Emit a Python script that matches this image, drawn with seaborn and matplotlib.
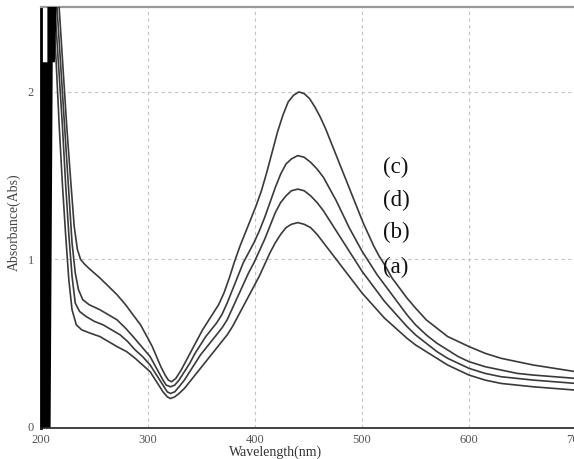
import matplotlib
matplotlib.use("Agg")
import matplotlib.pyplot as plt
import seaborn as sns
import pandas as pd

# ---- data ----
wl_c = [216, 220, 224, 228, 231, 234, 237, 241, 246, 255, 263, 271, 279, 286, 293, 299, 304, 308, 312, 316, 319, 322,
        326, 331, 336, 341, 346, 351, 356, 361, 366, 371, 376, 381, 386, 391, 396, 401, 406, 411, 416, 421, 426, 431, 436, 441,
        446, 451, 456, 461, 466, 471, 476, 481, 486, 491, 496, 501, 506, 511, 516, 521, 528, 535, 542, 550, 560, 570, 580, 590,
        600, 615, 630, 645, 660, 680, 700]
abs_c = [2.6, 2.2, 1.8, 1.45, 1.2, 1.06, 1.0, 0.97, 0.94, 0.89, 0.84, 0.79, 0.73, 0.67, 0.61, 0.54, 0.48, 0.42, 0.36, 0.31, 0.28, 0.27,
         0.29, 0.34, 0.40, 0.46, 0.52, 0.58, 0.63, 0.68, 0.73, 0.80, 0.89, 0.99, 1.08, 1.16, 1.24, 1.32, 1.41, 1.52, 1.64, 1.76, 1.86, 1.94, 1.98, 2.0,
         1.99, 1.96, 1.91, 1.85, 1.78, 1.70, 1.62, 1.54, 1.46, 1.38, 1.30, 1.22, 1.15, 1.08, 1.02, 0.97, 0.89, 0.83, 0.77, 0.71, 0.64, 0.59, 0.54, 0.51,
         0.48, 0.44, 0.41, 0.39, 0.37, 0.35, 0.33]

wl_d = [214, 218, 222, 226, 229, 232, 235, 239, 245, 255, 263, 271, 279, 286, 294, 302, 308, 314, 317, 321,
        325, 329, 334, 339, 344, 349, 354, 359, 364, 369, 374, 379, 384, 389, 394, 399, 404, 409, 414, 419, 424, 429, 434, 440,
        446, 452, 458, 464, 470, 476, 482, 488, 494, 500, 507, 514, 521, 528, 535, 542, 550, 560, 570, 580, 590,
        600, 615, 630, 645, 660, 680, 700]
abs_d = [2.6, 2.2, 1.8, 1.4, 1.1, 0.92, 0.82, 0.76, 0.73, 0.70, 0.67, 0.64, 0.59, 0.54, 0.48, 0.42, 0.35, 0.28, 0.25, 0.24,
         0.25, 0.28, 0.33, 0.38, 0.44, 0.49, 0.54, 0.58, 0.62, 0.67, 0.74, 0.82, 0.90, 0.98, 1.04, 1.10, 1.17, 1.25, 1.34, 1.43, 1.51, 1.57, 1.60, 1.62,
         1.61, 1.58, 1.54, 1.49, 1.42, 1.35, 1.27, 1.19, 1.12, 1.05, 0.98, 0.91, 0.85, 0.79, 0.73, 0.67, 0.61, 0.55, 0.50, 0.46, 0.42,
         0.39, 0.36, 0.34, 0.32, 0.31, 0.30, 0.29]

wl_b = [212, 216, 220, 223, 226, 229, 232, 236, 242, 250, 258, 266, 274, 281, 288, 295, 302, 308, 314, 318, 321,
        325, 329, 334, 339, 344, 349, 354, 359, 364, 369, 374, 379, 384, 389, 394, 399, 404, 409, 414, 419, 424, 429, 434, 440,
        446, 452, 458, 464, 470, 476, 482, 488, 494, 500, 507, 514, 521, 528, 535, 542, 550, 560, 570, 580, 590,
        600, 615, 630, 645, 660, 680, 700]
abs_b = [2.6, 2.2, 1.8, 1.45, 1.15, 0.9, 0.74, 0.69, 0.66, 0.63, 0.61, 0.58, 0.55, 0.51, 0.46, 0.42, 0.37, 0.31, 0.25, 0.21, 0.20,
         0.21, 0.24, 0.28, 0.33, 0.38, 0.43, 0.47, 0.51, 0.55, 0.59, 0.64, 0.71, 0.78, 0.85, 0.92, 0.98, 1.05, 1.12, 1.20, 1.28, 1.34, 1.38, 1.41, 1.42,
         1.41, 1.38, 1.34, 1.29, 1.23, 1.17, 1.11, 1.05, 0.99, 0.93, 0.87, 0.81, 0.75, 0.70, 0.65, 0.60, 0.55, 0.50, 0.45, 0.41, 0.38,
         0.35, 0.32, 0.30, 0.29, 0.28, 0.27, 0.26]

wl_a = [210, 214, 217, 220, 223, 226, 229, 233, 238, 246, 255, 263, 271, 280, 288, 295, 302, 308, 314, 318, 321,
        325, 329, 334, 339, 344, 349, 354, 359, 364, 369, 374, 379, 384, 389, 394, 399, 404, 409, 414, 419, 424, 429, 434, 440,
        446, 452, 458, 464, 470, 476, 482, 488, 494, 500, 507, 514, 521, 528, 535, 542, 550, 560, 570, 580, 590,
        600, 615, 630, 645, 660, 680, 700]
abs_a = [2.6, 2.2, 1.8, 1.45, 1.15, 0.88, 0.70, 0.61, 0.58, 0.56, 0.54, 0.51, 0.48, 0.45, 0.41, 0.37, 0.33, 0.27, 0.21, 0.18, 0.17,
         0.18, 0.20, 0.23, 0.27, 0.31, 0.35, 0.39, 0.43, 0.47, 0.51, 0.55, 0.60, 0.66, 0.72, 0.78, 0.84, 0.90, 0.97, 1.04, 1.10, 1.15, 1.19, 1.21, 1.22,
         1.21, 1.19, 1.15, 1.10, 1.05, 1.00, 0.95, 0.90, 0.85, 0.80, 0.75, 0.70, 0.65, 0.61, 0.57, 0.53, 0.49, 0.45, 0.41, 0.37, 0.34,
         0.31, 0.28, 0.26, 0.25, 0.24, 0.23, 0.22]

# saturated noisy detector region near 200 nm (filled black band)
noise_abs = [0.0, 2.18, 2.18, 2.56]
noise_lo_nm = [200.0, 200.0, 205.5, 205.5]
noise_hi_nm = [208.5, 210.5, 212.5, 214.5]

labels = ["(c)", "(d)", "(b)", "(a)"]
label_y = [1.55, 1.355, 1.16, 0.95]
label_x = 519.5

x_ticks = [200, 300, 400, 500, 600, 700]
y_ticks = [0, 1, 2]

# ---- figure ----
sns.set_theme(style="white")
plt.rcParams["font.family"] = ["Liberation Serif", "DejaVu Serif"]

fig = plt.figure(figsize=(5.74, 4.59), dpi=100)
ax = fig.add_axes([41 / 574, 31 / 459, 535 / 574, 421 / 459])

series = {"c": (wl_c, abs_c), "d": (wl_d, abs_d), "b": (wl_b, abs_b), "a": (wl_a, abs_a)}
frames = []
for name, (w, a) in series.items():
    frames.append(pd.DataFrame({"Wavelength": w, "Abs": a, "sample": name}))
df = pd.concat(frames, ignore_index=True)

sns.lineplot(data=df, x="Wavelength", y="Abs", hue="sample", units="sample",
             estimator=None, palette={k: "#3a3a3a" for k in series}, linewidth=1.2,
             legend=False, ax=ax, zorder=3, solid_joinstyle="round")

ax.fill_betweenx(noise_abs, noise_lo_nm, noise_hi_nm, color="black", lw=0, zorder=4)

ax.set_xlim(200, 700)
ax.set_ylim(-0.006, 2.507)

# grid
for gx in x_ticks[1:-1]:
    ax.axvline(gx, color="#c4c4c4", lw=0.8, ls=(0, (3, 3)), zorder=1)
for gy in y_ticks[1:]:
    ax.axhline(gy, color="#c4c4c4", lw=0.8, ls=(0, (3, 3)), zorder=1)

ax.set_xticks(x_ticks)
ax.set_yticks(y_ticks)
ax.set_xticklabels([str(v) for v in x_ticks])
ax.set_yticklabels([str(v) for v in y_ticks])
ax.tick_params(axis="both", length=0, labelsize=9, labelcolor="#555555")
ax.tick_params(axis="y", pad=5)
ax.tick_params(axis="x", pad=4)
ax.set_xlabel("")
ax.set_ylabel("")

for side in ["left", "bottom", "top", "right"]:
    ax.spines[side].set_visible(True)
ax.spines["left"].set_color("black")
ax.spines["left"].set_linewidth(2.0)
ax.spines["bottom"].set_color("#222222")
ax.spines["bottom"].set_linewidth(1.2)
ax.spines["top"].set_color("#9a9a9a")
ax.spines["top"].set_linewidth(1.6)

for t, yv in zip(labels, label_y):
    ax.text(label_x, yv, t, fontsize=16.5, color="#111111", va="center", ha="left", zorder=5)

fig.text(276 / 574, 1 - 452 / 459, "Wavelength(nm)", ha="center", va="center",
         fontsize=10, color="#333333")
fig.text(14 / 574, 1 - 222 / 459, "Absorbance(Abs)", ha="center", va="center",
         rotation=90, fontsize=10, color="#444444")

fig.savefig("out.png", dpi=100)
